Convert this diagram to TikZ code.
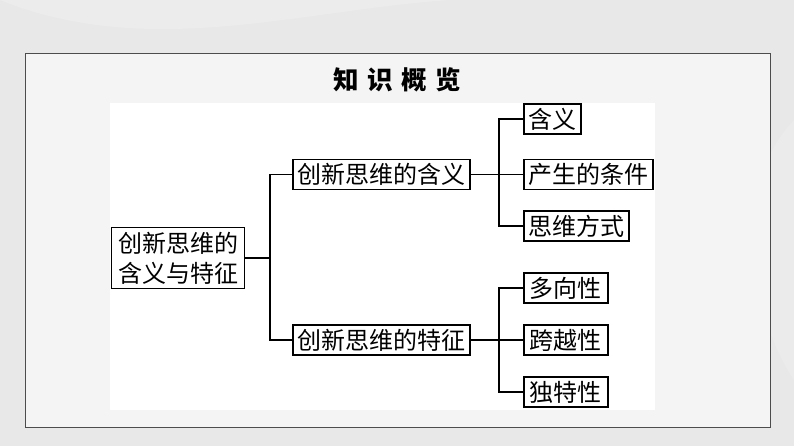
\documentclass[tikz,border=0pt]{standalone}
\usepackage{fontspec}
\setmainfont{Noto Sans CJK SC}
\begin{document}
\begin{tikzpicture}[x=1pt,y=-1pt,
  box/.style={draw=black,line width=1.6pt,fill=white,inner xsep=4.5pt,inner ysep=0pt,
    minimum height=30pt,font=\fontsize{24pt}{30pt}\selectfont},
  leaf/.style={box,anchor=west},
  conn/.style={draw=black,line width=1.6pt}]
\useasboundingbox (0,0) rectangle (794,446);
% background
\fill[gray!18] (0,0) rectangle (794,446);
\fill[white,opacity=0.2] (0,0) .. controls (150,60) and (300,10) .. (450,0) -- cycle;
\fill[white,opacity=0.15] (794,120) .. controls (720,200) and (760,330) .. (794,380) -- cycle;
% frame
\filldraw[fill=gray!9,draw=gray!60!black,line width=1pt] (25,54) rectangle (770,427);
% title
\node[font=\fontsize{25.5pt}{30pt}\selectfont\bfseries] (title) at (397.5,80)
  {知\hspace{8.5pt}识\hspace{8.5pt}概\hspace{8.5pt}览};
% white panel
\fill[white] (110,103) rectangle (655,410);
% nodes
\node[box,inner xsep=6.5pt,minimum height=61pt,align=center] (root) at (178,258) {创新思维的\\含义与特征};
\node[box] (m1) at (381.5,174.5) {创新思维的含义};
\node[box] (m2) at (381.5,340) {创新思维的特征};
\node[leaf] (l1) at (523,119) {含义};
\node[leaf] (l2) at (523,174.5) {产生的条件};
\node[leaf] (l3) at (523,226) {思维方式};
\node[leaf,inner xsep=6pt] (l4) at (523,288) {多向性};
\node[leaf,inner xsep=6pt] (l5) at (523,340) {跨越性};
\node[leaf,inner xsep=6pt] (l6) at (523,392) {独特性};
% connectors
\coordinate (j1) at (270,258);
\coordinate (j2) at (499,174.5);
\coordinate (j3) at (499,340);
\draw[conn] (root.east) -- (j1);
\draw[conn] (j1) |- (m1.west);
\draw[conn] (j1) |- (m2.west);
\draw[conn] (m1.east) -- (j2);
\draw[conn] (j2) |- (l1.west);
\draw[conn] (j2) -- (l2.west);
\draw[conn] (j2) |- (l3.west);
\draw[conn] (m2.east) -- (j3);
\draw[conn] (j3) |- (l4.west);
\draw[conn] (j3) -- (l5.west);
\draw[conn] (j3) |- (l6.west);
\end{tikzpicture}
\end{document}
